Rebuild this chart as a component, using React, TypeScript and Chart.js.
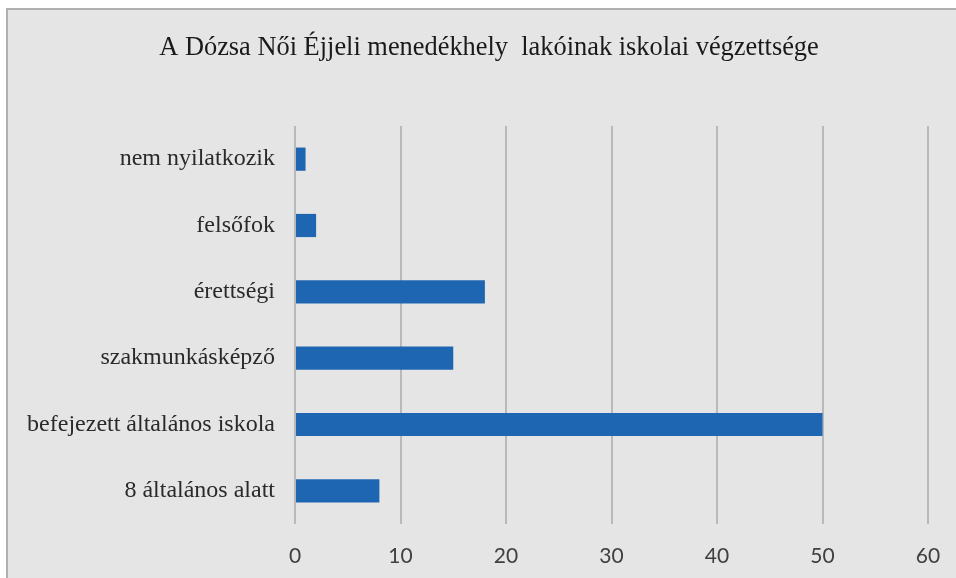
import React, { useEffect, useRef } from "react";
import { Chart, registerables } from "chart.js";

Chart.register(...registerables);

const categories = [
  "nem nyilatkozik",
  "felsőfok",
  "érettségi",
  "szakmunkásképző",
  "befejezett általános iskola",
  "8 általános alatt",
];
const values = [1, 2, 18, 15, 50, 8];
const titleText = "A Dózsa Női Éjjeli menedékhely  lakóinak iskolai végzettsége";
const xMin = 0;
const xMax = 60;
const xStep = 10;

const titlePlugin = {
  id: "offsetTitle",
  afterDraw(chart: any) {
    const c = chart.ctx;
    c.save();
    c.font = "normal 26.4px 'Liberation Serif', serif";
    c.fillStyle = "#1a1a1a";
    c.textAlign = "center";
    c.textBaseline = "middle";
    c.fillText(titleText, chart.width / 2 + 11, 48);
    c.restore();
  },
};

export default function App() {
  const ref = useRef<HTMLCanvasElement | null>(null);

  useEffect(() => {
    document.body.style.margin = "0";
    const ctx = ref.current!;
    const chart = new Chart(ctx, {
      type: "bar",
      data: {
        labels: categories,
        datasets: [
          {
            data: values,
            backgroundColor: "#1f66b2",
            borderWidth: 0,
            categoryPercentage: 1,
            barPercentage: 0.35,
          },
        ],
      },
      options: {
        indexAxis: "y",
        animation: false,
        responsive: false,
        maintainAspectRatio: false,
        layout: { padding: { left: 0, right: 28, top: 126, bottom: 0 } },
        plugins: {
          legend: { display: false },
          tooltip: { enabled: false },
          title: { display: false },
        },
        scales: {
          x: {
            min: xMin,
            max: xMax,
            ticks: {
              stepSize: xStep,
              color: "#404040",
              padding: 20,
              font: { family: "Lato, 'Liberation Sans', sans-serif", size: 21 },
            },
            grid: { color: "#b9b9b9", lineWidth: 2, drawTicks: false },
            border: { display: false },
            afterFit: (s: any) => {
              s.height = 54;
              s.paddingRight = 0;
              s.paddingLeft = 0;
            },
          },
          y: {
            ticks: {
              color: "#2a2a2a",
              padding: 20,
              font: { family: "'Liberation Serif', serif", size: 24 },
            },
            grid: { display: false, drawTicks: false },
            border: { display: false },
            afterFit: (s: any) => {
              s.width = 295;
            },
          },
        },
      },
      plugins: [titlePlugin],
    });
    return () => chart.destroy();
  }, []);

  return (
    <div
      style={{
        position: "relative",
        width: 956,
        height: 578,
        overflow: "hidden",
        background: "#ffffff",
      }}
    >
      <div
        style={{
          position: "absolute",
          left: 6,
          top: 8,
          width: 1000,
          height: 700,
          background: "#e5e5e5",
          borderLeft: "2px solid #b0b0b0",
          borderTop: "2px solid #b0b0b0",
        }}
      />
      <canvas
        ref={ref}
        width={956}
        height={578}
        style={{ position: "absolute", left: 0, top: 0, width: 956, height: 578 }}
      />
    </div>
  );
}
